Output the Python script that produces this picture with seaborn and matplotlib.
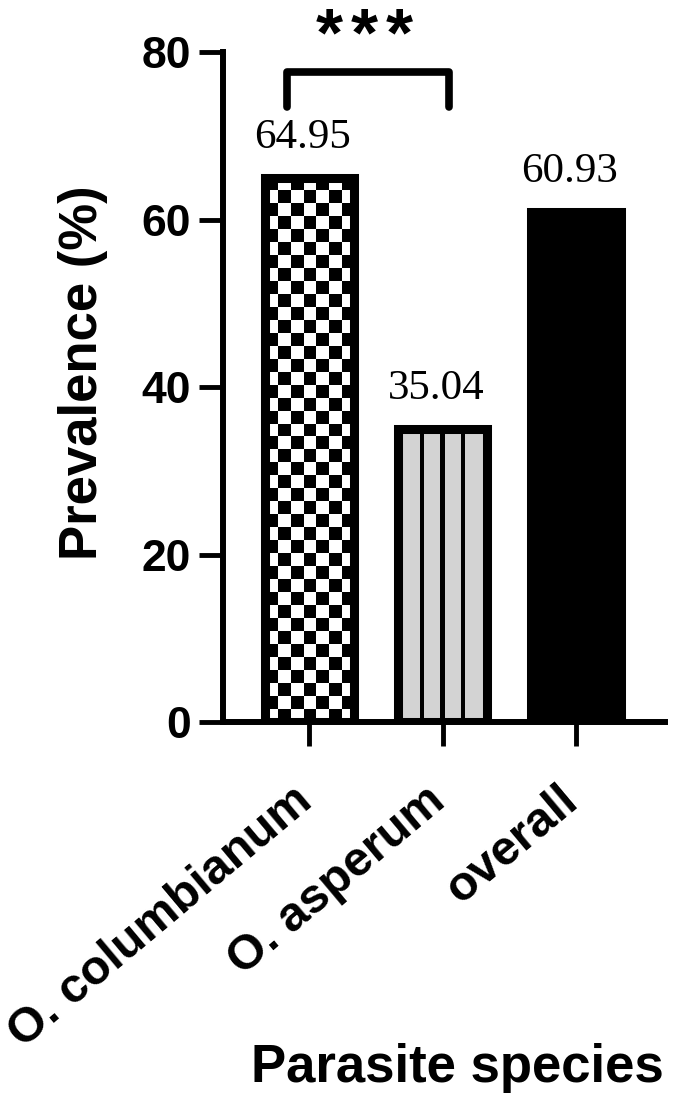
import numpy as np
import pandas as pd
import matplotlib
matplotlib.use("Agg")
import matplotlib.pyplot as plt
import matplotlib.transforms as mtransforms
import seaborn as sns

# data
species = ["O. columbianum", "O. asperum", "overall"]
prevalence = [64.95, 35.04, 60.93]
value_labels = ["64.95", "35.04", "60.93"]
y_ticks = [0, 20, 40, 60, 80]
sig_pair = (0, 1)
sig_text = "***"

sns.set_theme(style="ticks")
plt.rcParams["font.family"] = ["Liberation Sans", "DejaVu Sans"]
for k in ["text.color", "axes.labelcolor", "xtick.color", "ytick.color"]:
    plt.rcParams[k] = "black"

df = pd.DataFrame({"species": species, "prevalence": prevalence})

fig = plt.figure(figsize=(6.81, 11.06), dpi=100)
ax = fig.add_axes([0.327, 0.347, 0.650, 0.606])

sns.barplot(data=df, x="species", y="prevalence", ax=ax, width=0.67,
            color="white", edgecolor="black", linewidth=6.5, saturation=1)

bars = ax.patches


def fill_texture(bar, img, cmap):
    # paint a texture inside a bar, clipped to its outline
    bar.set_facecolor("none")
    x0, y0 = bar.get_x(), bar.get_y()
    im = ax.imshow(img, cmap=cmap, vmin=0, vmax=1,
                   extent=(x0, x0 + bar.get_width(), y0, y0 + bar.get_height()),
                   aspect="auto", interpolation="nearest",
                   zorder=bar.get_zorder() - 0.5)
    im.set_clip_path(bar)


# bar 1: checkerboard
checker = (np.add.outer(np.arange(42), np.arange(7)) % 2).astype(float)
fill_texture(bars[0], checker, "gray")

# bar 2: light grey with vertical black stripes
cols = np.arange(89)
stripes = np.where((cols % 20 >= 2) & (cols % 20 < 6) & (cols > 10) & (cols < 80),
                   0.0, 0.83)[None, :]
fill_texture(bars[1], stripes, "gray")

# bar 3: solid black
bars[2].set_facecolor("black")

for i, (v, t) in enumerate(zip(prevalence, value_labels)):
    ax.text(i - 0.05, v + 2.5, t, ha="center", va="bottom", fontsize=31,
            family=["Liberation Serif", "DejaVu Serif"])

# significance bracket
xa, xb = sig_pair
ax.plot([xa - 0.17, xa - 0.17, xb + 0.05, xb + 0.05], [73.4, 77.6, 77.6, 73.4],
        color="black", lw=5.5, clip_on=False, solid_joinstyle="round")
# stars drawn one by one to get the wider spacing of the original
n = len(sig_text)
for k, ch in enumerate(sig_text):
    ax.annotate(ch, xy=((xa + xb) / 2 - 0.09, 79.6),
                xytext=((k - (n - 1) / 2) * 25, 0), textcoords="offset points",
                ha="center", va="baseline", fontsize=50, fontweight="bold",
                annotation_clip=False)

ax.set_ylim(0, 80)
ax.set_xlim(-0.65, 2.67)
ax.set_yticks(y_ticks)
ax.set_yticklabels([str(t) for t in y_ticks], fontsize=32, fontweight="bold")
ax.set_xticks(range(len(species)))
ax.set_xticklabels(species, fontsize=35, fontweight="bold", rotation=40,
                   ha="right", rotation_mode="anchor")
ax.tick_params(axis="both", length=17, width=3.5, color="black", pad=6)
ax.tick_params(axis="x", pad=12)
shift = mtransforms.ScaledTranslation(-13 / 72, -11 / 72, fig.dpi_scale_trans)
for lab in ax.get_xticklabels():
    lab.set_transform(lab.get_transform() + shift)
ax.set_ylabel("Prevalence (%)", fontsize=38, fontweight="bold")
ax.set_xlabel("Parasite species", fontsize=38, fontweight="bold", va="top")
ax.yaxis.set_label_coords(-0.26, 0.522)
ax.xaxis.set_label_coords(0.53, -0.478)

sns.despine(ax=ax)
for s in ["left", "bottom"]:
    ax.spines[s].set_linewidth(4.3)
    ax.spines[s].set_color("black")

fig.savefig("out.png", dpi=100)
